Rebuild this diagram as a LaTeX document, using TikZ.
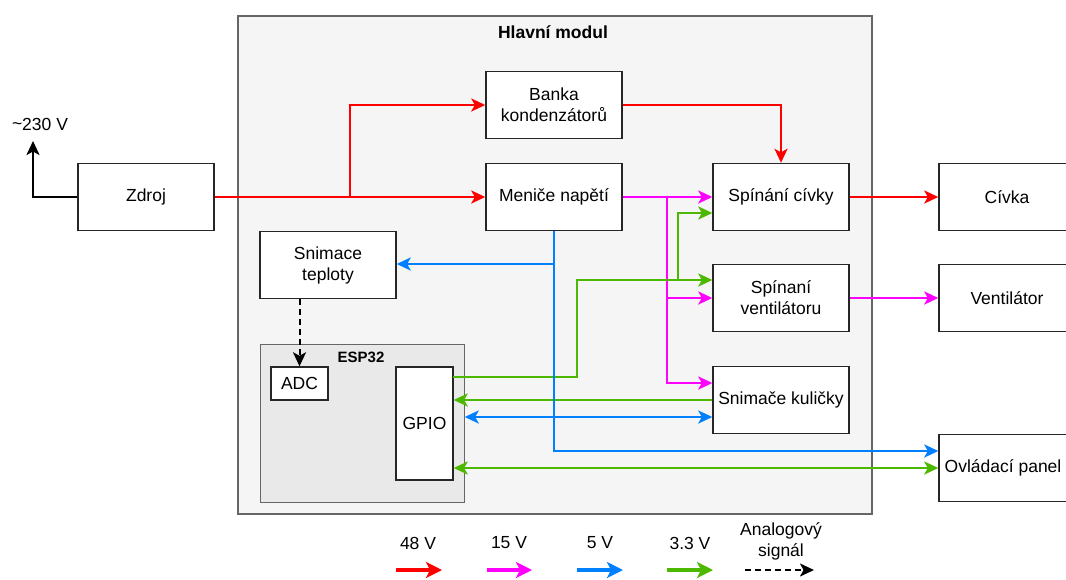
\documentclass[tikz,border=0pt]{standalone}
\usepackage{fontspec}
\setmainfont{Liberation Sans}
\usetikzlibrary{arrows.meta,calc}
\definecolor{cred}{RGB}{255,0,0}
\definecolor{cmag}{RGB}{255,0,255}
\definecolor{cblue}{RGB}{0,127,255}
\definecolor{cgreen}{RGB}{77,184,0}
\definecolor{modfill}{RGB}{245,245,245}
\definecolor{espfill}{RGB}{233,233,233}
\definecolor{modline}{RGB}{102,102,102}
\begin{document}
\begin{tikzpicture}[x=1pt,y=-1pt,
  txt/.style={font=\fontsize{17.5}{21}\selectfont},
  blk/.style={draw=black!85,fill=white,line width=1.4pt,minimum width=136pt,minimum height=67pt,align=center,inner sep=0pt,txt},
  tip/.style={-{Stealth[length=14pt,width=13pt,inset=3.5pt]}},
  bitip/.style={{Stealth[length=14pt,width=13pt,inset=3.5pt]}-{Stealth[length=14pt,width=13pt,inset=3.5pt]}},
  ltip/.style={-{Stealth[length=16pt,width=16pt,inset=4pt]}},
  wire/.style={line width=2.4pt},
  lwire/.style={line width=3.5pt},
  r/.style={wire,cred},
  m/.style={wire,cmag},
  b/.style={wire,cblue},
  g/.style={wire,cgreen},
  dsh/.style={line width=2pt,dash pattern=on 6pt off 4pt}]
\useasboundingbox (0,0) rectangle (1066,579);
\fill[white] (0,0) rectangle (1066,579);
% main module
\node[draw=modline,fill=modfill,line width=2pt,minimum width=634pt,minimum height=498pt,inner sep=0pt,anchor=north west] (mod) at (237,15) {};
\node[font=\fontsize{17.5}{21}\selectfont\bfseries] (modt) at (553,32) {Hlavní modul};
% ESP32
\node[draw=modline,fill=espfill,line width=1.4pt,minimum width=204pt,minimum height=158pt,inner sep=0pt,anchor=north west] (esp) at (260,344) {};
\node[font=\fontsize{15}{18}\selectfont\bfseries] (espt) at (361,357) {ESP32};
% blocks
\node[blk] (zdroj) at (146,197) {Zdroj};
\node[blk] (banka) at (554,105) {Banka\\kondenzátorů};
\node[blk] (menice) at (554,197) {Meniče napětí};
\node[blk] (spc) at (781,197) {Spínání cívky};
\node[blk] (spv) at (781,298) {Spínaní\\ventilátoru};
\node[blk] (snk) at (781,400) {Snimače kuličky};
\node[blk] (civka) at (1007,197) {Cívka};
\node[blk] (vent) at (1007,298) {Ventilátor};
\node[blk] (ovl) at (1007,468) {};
\node[txt] (ovlt) at (1003,468) {Ovládací panel};
\node[blk] (snt) at (328,265) {Snimace\\teploty};
\node[blk,minimum width=57pt,minimum height=33pt] (adc) at (299.5,383.5) {ADC};
\node[blk,minimum width=57pt,minimum height=113pt] (gpio) at (424.5,423.5) {GPIO};
% 230 V
\node[txt] (v230) at (40,124) {\raisebox{0.1ex}{\char"7E}230 V};
\coordinate (v230a) at (33,141);
\draw[line width=2.2pt,tip] (zdroj.west) -| (v230a);
% red
\coordinate (rj) at (350,197);
\draw[r,tip] (zdroj.east) -- (menice.west);
\draw[r,tip] (rj) |- (banka.west);
\draw[r,tip] (banka.east) -| (spc.north);
\draw[r,tip] (spc.east) -- (civka.west);
% magenta
\coordinate (mj) at (667,197);
\draw[m,tip] (menice.east) -- (spc.west);
\draw[m,tip] (mj) |- (spv.west);
\draw[m,tip] (mj) |- ($(snk.west)+(0,-17)$);
\draw[m,tip] (spv.east) -- (vent.west);
% green
\coordinate (gs) at (453,377);
\coordinate (gc) at (577,280);
\coordinate (gj) at (678,280);
\draw[g,tip] (gs) -| (gc) -- ($(spv.west)+(0,-18)$);
\draw[g,tip] (gj) |- ($(spc.west)+(0,16)$);
\draw[g,tip] (snk.west) -- (snk.west -| gpio.east);
\draw[g,bitip] (gpio.east |- ovl.west) -- (ovl.west);
% blue
\coordinate (bj) at (554,264);
\draw[b,tip] (menice.south) |- ($(ovl.west)+(0,-17)$);
\draw[b,tip] (bj) -- (snt.east |- bj);
\draw[b,bitip] ($(gpio.east)+(11,-6.5)$) -- ($(snk.west)+(0,17)$);
% dashed
\draw[dsh,tip] (snt.south -| adc.north) -- (adc.north);
% legend
\node[txt] (l1) at (418,543) {48 V};
\node[txt] (l2) at (509,543) {15 V};
\node[txt] (l3) at (600,543) {5 V};
\node[txt] (l4) at (690,543) {3.3 V};
\node[txt,align=center] (l5) at (781,541) {Analogový\\signál};
\coordinate (a1) at (396,570); \coordinate (b1) at (442,570);
\coordinate (a2) at (487,570); \coordinate (b2) at (532,570);
\coordinate (a3) at (577,570); \coordinate (b3) at (623,570);
\coordinate (a4) at (667,570); \coordinate (b4) at (713,570);
\coordinate (a5) at (745,570); \coordinate (b5) at (814,570);
\draw[lwire,cred,ltip] (a1) -- (b1);
\draw[lwire,cmag,ltip] (a2) -- (b2);
\draw[lwire,cblue,ltip] (a3) -- (b3);
\draw[lwire,cgreen,ltip] (a4) -- (b4);
\draw[dsh,tip] (a5) -- (b5);
\end{tikzpicture}
\end{document}
